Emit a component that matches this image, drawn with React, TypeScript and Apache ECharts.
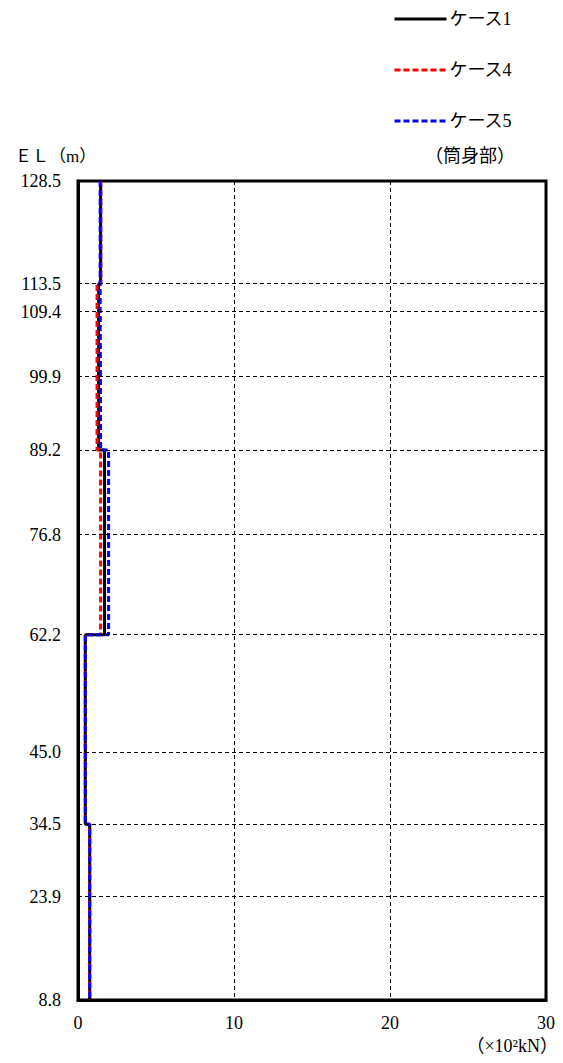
import React, { useEffect, useRef } from "react";
import * as echarts from "echarts";

// Segment boundaries (elevation, m) from top to bottom
const segmentBounds = [128.5, 113.5, 89.2, 62.2, 34.5, 8.8];
// Values per segment (×10² kN)
const case1 = [1.45, 1.32, 1.7, 0.47, 0.75];
const case4 = [1.47, 1.22, 1.45, 0.47, 0.75];
const case5 = [1.42, 1.45, 1.96, 0.47, 0.75];
// Y tick labels (elevations)
const yTicks = [128.5, 113.5, 109.4, 99.9, 89.2, 76.8, 62.2, 45.0, 34.5, 23.9, 8.8];
const xTicks = [0, 10, 20, 30];
const seriesNames = ["ケース1", "ケース4", "ケース5"];

const FONT = "'Liberation Serif', 'Noto Sans CJK JP', serif";

function stepPoints(values: number[]) {
  const pts: number[][] = [];
  values.forEach((v, i) => {
    pts.push([v, segmentBounds[i]]);
    pts.push([v, segmentBounds[i + 1]]);
  });
  return pts;
}

export default function App() {
  const ref = useRef<HTMLDivElement>(null);
  useEffect(() => {
    document.body.style.margin = "0";
    const chart = echarts.init(ref.current!, null, { renderer: "svg" });
    const gridLines = yTicks.filter((v, i) => i > 0 && i < yTicks.length - 1);
    chart.setOption({
      animation: false,
      textStyle: { fontFamily: FONT },
      grid: {
        left: 78,
        right: 17,
        top: 181,
        bottom: 63,
        show: true,
        borderColor: "#000",
        borderWidth: 3,
        backgroundColor: "transparent",
      },
      legend: {
        data: seriesNames,
        orient: "vertical",
        left: 388,
        top: 4,
        itemWidth: 52,
        itemHeight: 14,
        itemGap: 31,
        itemStyle: { opacity: 0 },
        lineStyle: { width: 3 },
        textStyle: { fontSize: 18, color: "#000", fontFamily: FONT, lineHeight: 20, padding: [0, 0, 0, -2] },
      },
      xAxis: {
        type: "value",
        min: xTicks[0],
        max: xTicks[xTicks.length - 1],
        interval: 10,
        axisLine: { show: true, lineStyle: { color: "#000", width: 3 } },
        axisTick: { show: false },
        axisLabel: { color: "#000", fontSize: 18, margin: 14, fontFamily: FONT },
        splitLine: { show: true, lineStyle: { color: "#000", width: 1, type: [4, 3] } },
      },
      yAxis: {
        type: "value",
        min: 8.8,
        max: 128.5,
        axisLine: { show: true, lineStyle: { color: "#000", width: 3 } },
        axisTick: { show: false },
        axisLabel: {
          color: "#000",
          fontSize: 18,
          margin: 17,
          fontFamily: FONT,
          customValues: yTicks,
          formatter: (v: number) => v.toFixed(1),
        },
        splitLine: { show: false },
      },
      graphic: [
        {
          type: "text",
          left: 15,
          top: 148,
          style: { text: "ＥＬ（m）", font: `17px ${FONT}`, fill: "#000" },
        },
        {
          type: "text",
          left: 425,
          top: 147,
          style: { text: "（筒身部）", font: `18px ${FONT}`, fill: "#000" },
        },
        {
          type: "text",
          right: 5,
          top: 1037,
          style: { text: "（×10²kN）", font: `18px ${FONT}`, fill: "#000" },
        },
      ],
      series: [
        {
          type: "line",
          name: "grid",
          data: [],
          z: 1,
          silent: true,
          markLine: {
            silent: true,
            symbol: "none",
            label: { show: false },
            lineStyle: { color: "#000", width: 1, type: [4, 3] },
            data: gridLines.map((v) => ({ yAxis: v })),
          },
        },
        {
          type: "line",
          name: seriesNames[0],
          data: stepPoints(case1),
          symbol: "none",
          z: 2,
          lineStyle: { color: "#000", width: 3, type: "solid" },
          itemStyle: { color: "#000" },
        },
        {
          type: "line",
          name: seriesNames[1],
          data: stepPoints(case4),
          symbol: "none",
          z: 3,
          lineStyle: { color: "#ff0000", width: 3, type: [6, 3] },
          itemStyle: { color: "#ff0000" },
        },
        {
          type: "line",
          name: seriesNames[2],
          data: stepPoints(case5),
          symbol: "none",
          z: 4,
          lineStyle: { color: "#0000ff", width: 3, type: [6, 3] },
          itemStyle: { color: "#0000ff" },
        },
      ],
    });
    return () => chart.dispose();
  }, []);
  return <div ref={ref} style={{ width: 563, height: 1063 }} />;
}
